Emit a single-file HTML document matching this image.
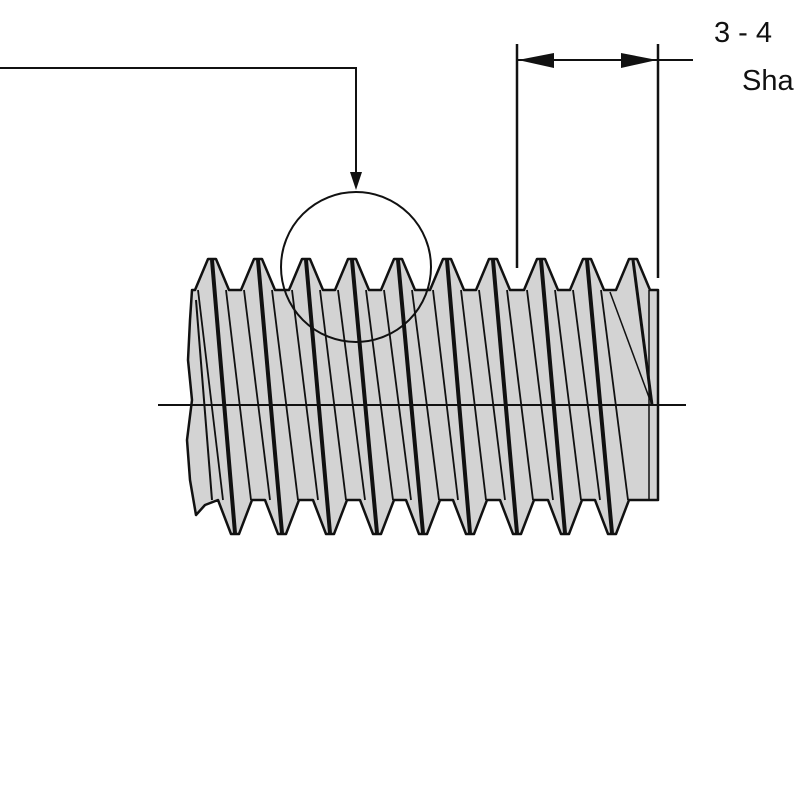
<!DOCTYPE html>
<html><head><style>body{margin:0;background:#fff}svg{display:block}</style></head>
<body>
<svg id="s" width="800" height="800" viewBox="0 0 800 800" xmlns="http://www.w3.org/2000/svg">
<text x="714" y="42" font-family="Liberation Sans, sans-serif" font-size="29" fill="#111">3 - 4</text>
<text x="742" y="90" font-family="Liberation Sans, sans-serif" font-size="29" fill="#111">Sha</text>
</svg>
<script>
(function(){
var s=document.getElementById('s'),ns='http://www.w3.org/2000/svg';
function el(t,a){var e=document.createElementNS(ns,t);for(var k in a)e.setAttribute(k,a[k]);s.appendChild(e);return e;}
var tp=[212,258,306,352,398,447,493,541,587,633],bt=[235,282,330,377,423,470,517,565,612];
var d='M192,290 ';
tp.forEach(function(c){d+='L'+(c-17)+',290 L'+(c-4)+',259 L'+(c+4)+',259 L'+(c+17)+',290 ';});
d+='L658,290 L658,500 ';
bt.slice().reverse().forEach(function(c){d+='L'+(c+17)+',500 L'+(c+4)+',534 L'+(c-4)+',534 L'+(c-17)+',500 ';});
d+='L205,505 L196,515 L190,480 L187,440 L192,400 L188,360 L190,320 Z';
el('path',{d:d,fill:'#d3d3d3',stroke:'#111','stroke-width':2.5,'stroke-linejoin':'round'});
for(var i=0;i<9;i++){
 el('line',{x1:tp[i],y1:260,x2:bt[i],y2:533,stroke:'#111','stroke-width':4});
 el('line',{x1:tp[i]+14,y1:290,x2:bt[i]+16,y2:500,stroke:'#111','stroke-width':1.8});
 el('line',{x1:tp[i]-14,y1:290,x2:bt[i]-12,y2:500,stroke:'#111','stroke-width':1.8});
}
el('line',{x1:196,y1:300,x2:212,y2:500,stroke:'#111','stroke-width':2});
el('line',{x1:633,y1:260,x2:652,y2:405,stroke:'#111','stroke-width':3});
el('line',{x1:610,y1:292,x2:650,y2:400,stroke:'#111','stroke-width':1.5});
el('line',{x1:649,y1:290,x2:649,y2:500,stroke:'#111','stroke-width':1.5});
el('line',{x1:158,y1:405,x2:686,y2:405,stroke:'#111','stroke-width':2});
el('circle',{cx:356,cy:267,r:75,fill:'none',stroke:'#111','stroke-width':2});
el('polyline',{points:'0,68 356,68 356,178',fill:'none',stroke:'#111','stroke-width':2});
el('path',{d:'M350,172 L362,172 L356,190 Z',fill:'#111'});
el('line',{x1:517,y1:44,x2:517,y2:268,stroke:'#111','stroke-width':2.5});
el('line',{x1:658,y1:44,x2:658,y2:278,stroke:'#111','stroke-width':2.5});
el('line',{x1:517,y1:60,x2:693,y2:60,stroke:'#111','stroke-width':2});
el('path',{d:'M518,60 L554,53 L554,68 Z',fill:'#111'});
el('path',{d:'M657,60 L621,53 L621,68 Z',fill:'#111'});
})();
</script>
</body></html>
